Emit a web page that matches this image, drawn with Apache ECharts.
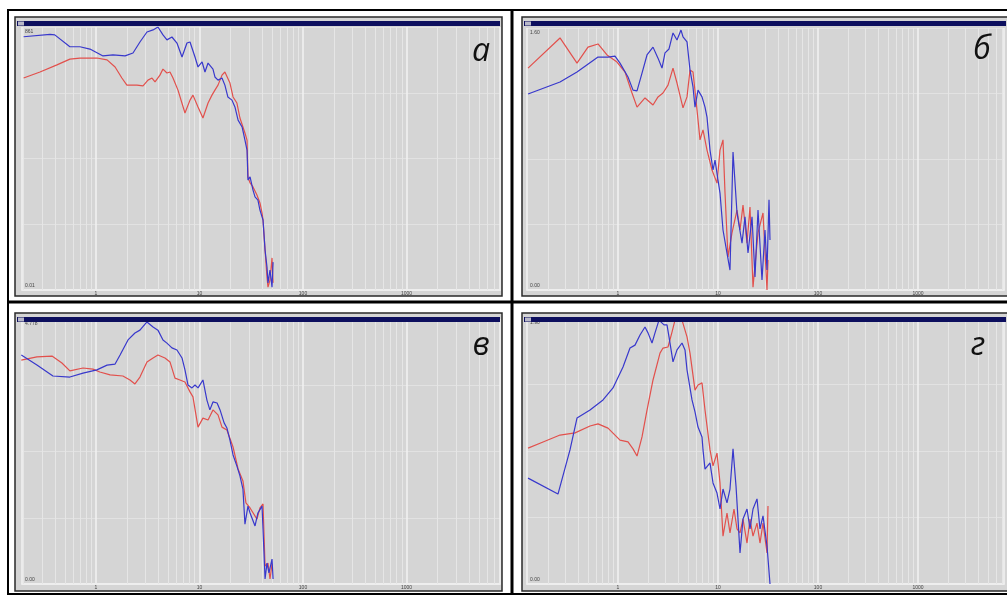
<!DOCTYPE html>
<html><head><meta charset="utf-8">
<script src="https://cdn.jsdelivr.net/npm/echarts@6/dist/echarts.min.js"></script>
<style>html,body{margin:0;padding:0;background:#fff}#c{width:1007px;height:596px}</style>
</head><body><div id="c"></div><script>
// ---- data: [frequency, level] ----
const aBlue = [[0.2,96.3],[0.36,97.2],[0.4,97.0],[0.56,92.5],[0.7,92.5],[0.875,91.6],[1.17,89.0],[1.46,89.4],[1.91,89.0],[2.28,90.1],[2.66,94.3],[3.11,98.1],[3.56,98.9],[3.97,100],[4.44,97.0],[4.85,95.1],[5.42,96.2],[6.06,93.9],[6.78,88.6],[7.57,93.9],[8.1,94.3],[9.05,88.6],[9.68,84.8],[10.6,86.7],[11.3,82.9],[12.1,86.3],[12.6,86.7],[13.5,84.0],[14.1,81.0],[15.1,79.8],[16.5,80.6],[17.6,77.9],[18.8,73.4],[20.6,72.2],[22.0,69.6],[23.6,64.6],[25.8,62.0],[27.5,57.0],[28.8,53.2],[29.4,41.8],[30.8,43.0],[32.9,38.0],[34.4,35.4],[36.7,34.2],[38.4,30.4],[40.2,27.8],[41.1,26.6],[43.0,15.2],[44.9,8.7],[45.9,2.7],[48.0,7.6],[50.2,1.1],[51.4,10.6]];
const aRed = [[0.2,80.6],[0.288,82.9],[0.42,85.6],[0.56,87.8],[0.7,88.2],[1.02,88.2],[1.28,87.5],[1.53,84.8],[1.78,80.6],[1.99,77.9],[2.49,77.9],[2.85,77.6],[3.18,79.8],[3.48,80.6],[3.72,79.1],[4.15,81.7],[4.44,84.0],[4.85,82.5],[5.19,82.9],[5.55,80.6],[6.2,76.0],[7.24,67.3],[8.1,72.2],[8.65,74.1],[9.68,69.6],[10.8,65.4],[12.1,71.1],[13.2,74.1],[14.1,76.0],[15.1,77.9],[16.5,81.7],[17.6,82.9],[19.7,78.7],[21.1,73.4],[23.0,71.1],[24.6,65.4],[27.5,59.7],[28.8,57.0],[29.4,43.0],[30.8,40.7],[32.9,39.2],[35.9,36.1],[38.4,33.1],[40.2,29.3],[41.1,26.6],[43.0,15.2],[44.9,4.9],[45.9,1.1],[48.0,3.8],[50.2,12.2],[51.4,2.7]];
const bBlue = [[0.126,74.8],[0.263,79.4],[0.389,83.2],[0.631,88.9],[0.794,88.9],[0.933,89.3],[1.047,86.6],[1.259,81.3],[1.413,76.3],[1.549,76.0],[1.738,82.8],[1.95,89.7],[2.239,92.7],[2.512,88.5],[2.754,84.7],[2.951,90.5],[3.236,92.0],[3.548,98.1],[3.89,95.4],[4.266,99.2],[4.467,96.6],[4.898,94.7],[5.248,84.0],[5.623,77.5],[5.888,69.8],[6.31,76.3],[6.918,73.7],[7.413,69.8],[7.762,66.0],[8.318,53.4],[8.913,45.8],[9.333,49.6],[10.47,37.0],[11.22,22.9],[12.3,14.1],[13.18,7.6],[14.13,52.7],[15.49,29.4],[17.38,17.9],[18.62,27.9],[19.95,14.1],[21.88,27.9],[23.44,5.0],[25.12,30.5],[27.54,3.8],[29.51,22.9],[30.9,7.6],[32.36,34.4],[33.11,19.1]];
const bRed = [[0.126,84.7],[0.263,96.2],[0.389,86.6],[0.501,92.7],[0.631,93.9],[0.776,89.7],[0.977,87.0],[1.175,83.2],[1.38,75.2],[1.549,69.8],[1.862,73.3],[2.239,70.6],[2.512,73.7],[2.818,75.2],[3.162,78.2],[3.548,84.7],[3.89,79.0],[4.467,69.5],[4.898,73.7],[5.248,84.0],[5.623,83.2],[6.166,68.7],[6.607,57.3],[7.079,61.1],[7.762,53.4],[8.71,45.8],[9.772,40.8],[10.47,53.4],[11.22,57.3],[11.75,37.0],[12.59,12.6],[13.8,21.8],[15.49,30.5],[16.6,22.9],[17.78,32.4],[19.5,17.9],[20.89,31.7],[22.39,1.1],[25.12,21.8],[28.18,29.4],[30.9,0],[31.62,11.5]];
const cBlue = [[0.19,86.4],[0.269,82.6],[0.384,78.5],[0.56,78.1],[0.75,79.6],[1.02,80.8],[1.28,82.6],[1.53,83.0],[1.71,86.4],[2.04,92.1],[2.38,94.7],[2.66,95.8],[3.11,98.9],[3.56,97.0],[3.97,95.8],[4.44,92.1],[4.85,90.9],[5.42,89.1],[6.06,88.3],[6.78,85.3],[7.24,80.8],[7.74,75.1],[8.46,74.0],[9.05,75.1],[9.68,74.0],[10.8,77.0],[11.8,69.4],[12.6,65.7],[13.5,68.7],[14.8,68.3],[15.8,65.7],[17.3,60.8],[18.4,58.9],[19.7,54.3],[21.1,48.7],[23.0,44.5],[24.6,40.8],[26.3,35.8],[27.5,22.6],[29.4,29.4],[30.8,26.8],[34.4,21.9],[36.7,26.8],[40.2,29.4],[41.1,20.8],[43.0,1.9],[44.9,7.9],[46.9,4.2],[50.2,9.4],[51.4,1.9]];
const cRed = [[0.19,84.5],[0.269,85.7],[0.376,86.0],[0.469,83.4],[0.56,80.4],[0.75,81.5],[0.935,81.1],[1.09,80.0],[1.37,78.9],[1.82,78.5],[2.13,77.0],[2.38,75.5],[2.66,78.1],[3.11,83.8],[3.56,85.3],[3.97,86.4],[4.64,85.3],[5.19,83.8],[5.8,77.7],[6.48,77.0],[7.24,76.2],[8.1,72.5],[8.65,70.6],[9.68,59.2],[10.8,62.6],[12.1,61.9],[13.5,65.7],[15.1,63.8],[16.5,59.2],[18.4,58.1],[21.1,51.7],[23.6,43.4],[26.3,38.9],[28.1,30.6],[30.8,28.7],[32.2,29.4],[35.9,24.5],[38.4,28.7],[41.1,30.2],[43.0,6.8],[45.9,7.9],[48.0,1.9],[50.2,7.5]];
const dBlue = [[0.126,39.8],[0.251,33.8],[0.331,50.4],[0.389,62.4],[0.525,65.4],[0.708,69.2],[0.891,73.7],[1.122,81.6],[1.318,88.7],[1.479,89.8],[1.66,93.6],[1.862,96.6],[1.995,94.4],[2.188,90.6],[2.344,94.4],[2.57,99.2],[2.884,97.4],[3.09,97.4],[3.236,92.9],[3.548,83.5],[3.89,88.0],[4.365,90.6],[4.677,88.0],[4.898,80.5],[5.495,69.2],[5.888,64.7],[6.31,59.0],[6.918,55.3],[7.079,50.4],[7.413,43.2],[8.318,45.5],[8.913,38.0],[9.772,34.2],[10.47,28.2],[11.22,35.7],[12.3,30.5],[13.18,35.7],[14.13,50.8],[15.14,36.8],[16.6,11.7],[17.78,24.4],[19.5,28.2],[20.89,20.7],[22.39,28.2],[24.55,32.0],[26.3,20.7],[28.18,25.6],[30.9,14.3],[33.11,0]];
const dRed = [[0.126,51.1],[0.178,53.4],[0.263,56.0],[0.372,56.8],[0.525,59.4],[0.631,60.2],[0.794,58.6],[1.047,54.1],[1.259,53.4],[1.413,50.8],[1.549,48.1],[1.738,55.3],[1.95,65.4],[2.239,76.7],[2.63,86.8],[2.818,88.7],[3.162,89.1],[3.467,94.7],[3.715,99.2],[4.365,99.2],[4.898,92.9],[5.248,86.8],[5.888,72.9],[6.31,74.8],[6.918,75.6],[7.413,65.4],[8.318,50.4],[8.913,44.4],[9.772,49.2],[10.47,38.0],[11.22,18.0],[12.3,26.7],[13.18,19.2],[14.45,28.2],[15.49,20.7],[16.6,19.2],[17.78,24.4],[19.5,15.4],[20.89,24.4],[22.39,18.0],[24.55,22.9],[26.3,15.4],[28.18,22.9],[30.9,11.7],[31.62,29.3]];

const panelLetters = ['а', 'б', 'в', 'г'];
const yTopLabels = ['861', '1.60', '4.778', '1.90'];
const yBottomLabels = ['0.01', '0.00', '0.00', '0.00'];
const xRanges = [[0.193, 8000], [0.123, 7244], [0.193, 8000], [0.123, 7244]];
const minorGrid = [0.2,0.3,0.4,0.5,0.6,0.7,0.8,0.9,2,3,4,5,6,7,8,9,20,30,40,50,60,70,80,90,200,300,400,500,600,700,800,900,2000,3000,4000,5000,6000,7000];
const panelSeries = [[aBlue, aRed], [bBlue, bRed], [cBlue, cRed], [dBlue, dRed]];

// ---- layout ----
const grids = [
  {left: 22, top: 27, width: 478, height: 263},
  {left: 527, top: 28, width: 477, height: 262},
  {left: 22, top: 319, width: 478, height: 265},
  {left: 527, top: 318, width: 477, height: 266}
];
const frames = [[15, 17, 487, 279], [522, 17, 486, 279], [15, 313, 487, 278], [522, 313, 486, 278]];
const letterPos = [[481, 52], [982, 50], [481, 346], [978, 346]];

const BLUE = '#3838cc', RED = '#e2504c', BG = '#d5d5d5';

const graphic = [];
frames.forEach((f, i) => {
  graphic.push({type: 'rect', z: -5, shape: {x: f[0], y: f[1], width: f[2], height: f[3]}, style: {fill: BG, stroke: '#2a2a2a', lineWidth: 1.5}});
  graphic.push({type: 'rect', z: 50, shape: {x: f[0] + 2, y: f[1] + 4, width: f[2] - 4, height: 5}, style: {fill: '#0d0f5e'}});
  graphic.push({type: 'rect', z: 51, shape: {x: f[0] + 3, y: f[1] + 4.5, width: 6, height: 4}, style: {fill: '#b8b8c8'}});
  graphic.push({type: 'text', z: 60, x: letterPos[i][0], y: letterPos[i][1], style: {text: panelLetters[i], fontSize: 32, fontStyle: 'italic', fontFamily: 'Open Sans', fill: '#111', align: 'center', verticalAlign: 'middle'}});
});
// table lines
graphic.push({type: 'rect', z: 40, shape: {x: 8, y: 10, width: 1010, height: 584}, style: {fill: null, stroke: '#000', lineWidth: 2}});
graphic.push({type: 'line', z: 40, shape: {x1: 512, y1: 10, x2: 512, y2: 594}, style: {stroke: '#000', lineWidth: 3}});
graphic.push({type: 'line', z: 40, shape: {x1: 8, y1: 302, x2: 1007, y2: 302}, style: {stroke: '#000', lineWidth: 3}});

const option = {
  animation: false,
  backgroundColor: '#fff',
  graphic: graphic,
  grid: grids.map(g => Object.assign({show: true, backgroundColor: BG, borderWidth: 0}, g)),
  xAxis: grids.map((g, i) => ({
    type: 'log', logBase: 10, gridIndex: i, min: xRanges[i][0], max: xRanges[i][1],
    axisLine: {show: true, lineStyle: {color: '#eeeeee', width: 2}},
    axisTick: {show: false},
    axisLabel: {fontSize: 5, color: '#444', margin: 1, showMinLabel: false, showMaxLabel: false,
      formatter: v => String(Math.round(v))},
    splitLine: {show: true, lineStyle: {color: '#f2f2f2', width: 1.5}}
  })),
  yAxis: grids.map((g, i) => ({
    type: 'value', gridIndex: i, min: 0, max: 100, interval: 25,
    axisLine: {show: false}, axisTick: {show: false},
    axisLabel: {inside: true, fontSize: 5, color: '#444', margin: 3,
      formatter: v => v === 100 ? '{t|' + yTopLabels[i] + '}' : (v === 0 ? '{b|' + yBottomLabels[i] + '}' : ''),
      rich: {t: {fontSize: 5, color: '#444', padding: [10, 0, 0, 0]}, b: {fontSize: 5, color: '#444', padding: [0, 0, 8, 0]}}},
    splitLine: {show: true, lineStyle: {color: '#e2e2e2', width: 1}}
  })),
  series: []
};
panelSeries.forEach((pair, i) => {
  option.series.push({
    type: 'line', xAxisIndex: i, yAxisIndex: i, data: [], z: 1, silent: true,
    markLine: {silent: true, z: 1, symbol: 'none', label: {show: false},
      lineStyle: {color: '#e6e6e6', width: 1, type: 'solid'},
      data: minorGrid.filter(v => v > xRanges[i][0] && v < xRanges[i][1]).map(v => ({xAxis: v}))}
  });
  option.series.push({type: 'line', xAxisIndex: i, yAxisIndex: i, data: pair[1], showSymbol: false, symbol: 'none', clip: true, z: 10, lineStyle: {color: RED, width: 1.2}});
  option.series.push({type: 'line', xAxisIndex: i, yAxisIndex: i, data: pair[0], showSymbol: false, symbol: 'none', clip: true, z: 11, lineStyle: {color: BLUE, width: 1.2}});
});
const chart = echarts.init(document.getElementById('c'), null, {renderer: 'canvas'});
chart.setOption(option);
</script></body></html>
